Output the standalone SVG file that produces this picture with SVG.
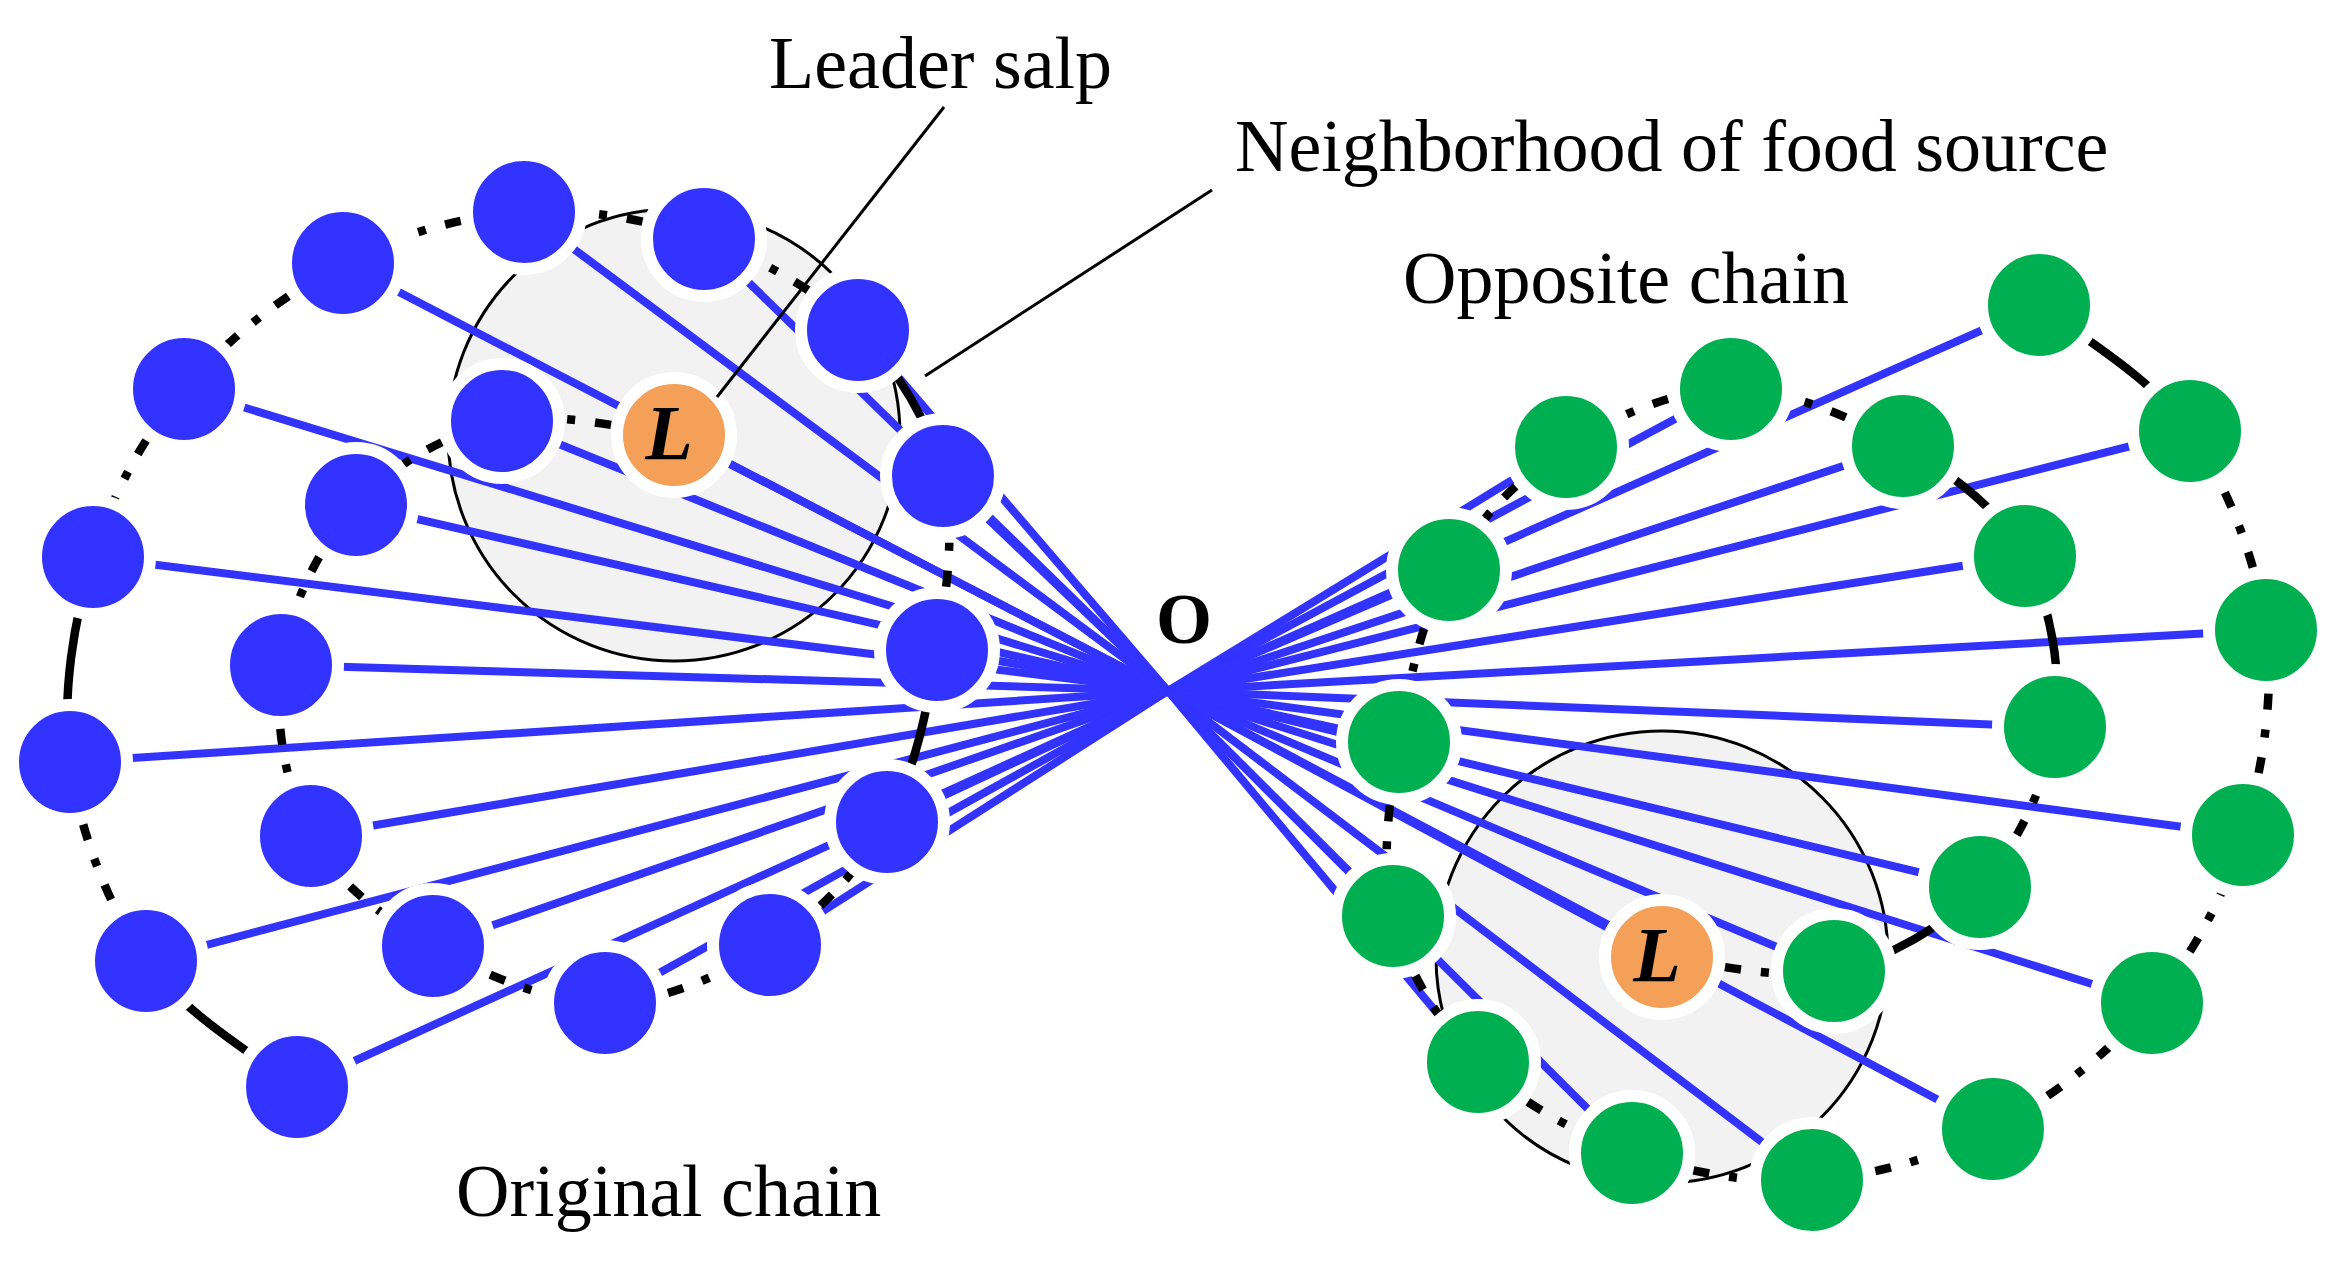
<svg xmlns="http://www.w3.org/2000/svg" width="2339" height="1287" viewBox="0 0 2339 1287">
<style>
.bg{fill:#ffffff}
.hood{fill:#f2f2f2;stroke:#000;stroke-width:3}
.ln{stroke:#3333ff;stroke-width:8;fill:none}
.ch{stroke:#000;stroke-width:8.5;fill:none;stroke-dasharray:16 20 8 20}
.ch.s{stroke-dasharray:none}
.nb{fill:#3333ff;stroke:#fff;stroke-width:12}
.ng{fill:#00b050;stroke:#fff;stroke-width:12}
.nl{fill:#f4a058;stroke:#fff;stroke-width:12}
.co{stroke:#000;stroke-width:3;fill:none}
.lbl{font-family:"Liberation Serif","Times New Roman",serif;font-size:74px;fill:#000}
.lt{font-family:"Liberation Serif","Times New Roman",serif;font-size:78px;font-weight:bold;font-style:italic;text-anchor:middle;fill:#000}
.o{font-family:"Liberation Serif","Times New Roman",serif;font-size:72px;font-weight:bold;fill:#000}
</style>
<rect class="bg" x="0" y="0" width="2339" height="1287"/>
<g id="neighborhoods">
<circle class="hood" cx="674" cy="435" r="226"/>
<circle class="hood" cx="1662" cy="957" r="226"/>
</g>
<g id="connectors">
<g id="rays">
<line class="ln" x1="524" y1="212" x2="1168" y2="691"/>
<line class="ln" x1="343" y1="263" x2="1168" y2="691"/>
<line class="ln" x1="184" y1="389" x2="1168" y2="691"/>
<line class="ln" x1="502" y1="421" x2="1168" y2="691"/>
<line class="ln" x1="356" y1="505" x2="1168" y2="691"/>
<line class="ln" x1="93" y1="557" x2="1168" y2="691"/>
<line class="ln" x1="281" y1="665" x2="1168" y2="691"/>
<line class="ln" x1="70" y1="762" x2="1168" y2="691"/>
<line class="ln" x1="311" y1="836" x2="1168" y2="691"/>
<line class="ln" x1="146" y1="961" x2="1168" y2="691"/>
<line class="ln" x1="433" y1="946" x2="1168" y2="691"/>
<line class="ln" x1="605" y1="1003" x2="1168" y2="691"/>
<line class="ln" x1="297" y1="1087" x2="1168" y2="691"/>
<line class="ln" x1="770" y1="945" x2="1168" y2="691"/>
<line class="ln" x1="887" y1="822" x2="1168" y2="691"/>
<line class="ln" x1="937" y1="650" x2="1168" y2="691"/>
<line class="ln" x1="943" y1="476" x2="1168" y2="691"/>
<line class="ln" x1="858" y1="330" x2="1168" y2="691"/>
<line class="ln" x1="704" y1="239" x2="1168" y2="691"/>
<line class="ln" x1="674" y1="435" x2="1168" y2="691"/>
<line class="ln" x1="1812" y1="1180" x2="1168" y2="691"/>
<line class="ln" x1="1993" y1="1129" x2="1168" y2="691"/>
<line class="ln" x1="2152" y1="1003" x2="1168" y2="691"/>
<line class="ln" x1="1834" y1="971" x2="1168" y2="691"/>
<line class="ln" x1="1980" y1="887" x2="1168" y2="691"/>
<line class="ln" x1="2243" y1="835" x2="1168" y2="691"/>
<line class="ln" x1="2055" y1="727" x2="1168" y2="691"/>
<line class="ln" x1="2266" y1="630" x2="1168" y2="691"/>
<line class="ln" x1="2025" y1="556" x2="1168" y2="691"/>
<line class="ln" x1="2190" y1="431" x2="1168" y2="691"/>
<line class="ln" x1="1903" y1="446" x2="1168" y2="691"/>
<line class="ln" x1="1731" y1="389" x2="1168" y2="691"/>
<line class="ln" x1="2039" y1="305" x2="1168" y2="691"/>
<line class="ln" x1="1566" y1="447" x2="1168" y2="691"/>
<line class="ln" x1="1449" y1="570" x2="1168" y2="691"/>
<line class="ln" x1="1399" y1="742" x2="1168" y2="691"/>
<line class="ln" x1="1393" y1="916" x2="1168" y2="691"/>
<line class="ln" x1="1478" y1="1062" x2="1168" y2="691"/>
<line class="ln" x1="1632" y1="1153" x2="1168" y2="691"/>
<line class="ln" x1="1662" y1="957" x2="1168" y2="691"/>
</g>
<g id="chain-left">
<path class="ch" d="M674,435 C645.3,432.7 555,409.3 502,421"/>
<path class="ch" d="M502,421 C449,432.7 392.8,464.3 356,505"/>
<path class="ch" d="M356,505 C319.2,545.7 288.5,609.8 281,665"/>
<path class="ch" d="M281,665 C273.5,720.2 285.7,789.2 311,836"/>
<path class="ch" d="M311,836 C336.3,882.8 384,918.2 433,946"/>
<path class="ch" d="M433,946 C482,973.8 548.8,1003.2 605,1003"/>
<path class="ch" d="M605,1003 C661.2,1002.8 723,975.2 770,945"/>
<path class="ch" d="M770,945 C817,914.8 859.2,871.2 887,822"/>
<path class="ch s" d="M887,822 C914.8,772.8 927.7,707.7 937,650"/>
<path class="ch" d="M937,650 C946.3,592.3 956.2,529.3 943,476"/>
<path class="ch s" d="M943,476 C929.8,422.7 897.8,369.5 858,330"/>
<path class="ch" d="M858,330 C818.2,290.5 759.7,258.7 704,239"/>
<path class="ch" d="M704,239 C648.3,219.3 584.2,208 524,212"/>
<path class="ch" d="M524,212 C463.8,216 399.7,233.5 343,263"/>
<path class="ch" d="M343,263 C286.3,292.5 225.7,340 184,389"/>
<path class="ch" d="M184,389 C142.3,438 112,494.8 93,557"/>
<path class="ch s" d="M93,557 C74,619.2 61.2,694.7 70,762"/>
<path class="ch" d="M70,762 C78.8,829.3 108.2,906.8 146,961"/>
<path class="ch s" d="M146,961 C183.8,1015.2 271.8,1066 297,1087"/>
</g>
<g id="chain-right">
<path class="ch" d="M1662,957 C1690.7,959.3 1781,982.7 1834,971"/>
<path class="ch s" d="M1834,971 C1887,959.3 1943.2,927.7 1980,887"/>
<path class="ch" d="M1980,887 C2016.8,846.3 2047.5,782.2 2055,727"/>
<path class="ch s" d="M2055,727 C2062.5,671.8 2050.3,602.8 2025,556"/>
<path class="ch s" d="M2025,556 C1999.7,509.2 1952,473.8 1903,446"/>
<path class="ch" d="M1903,446 C1854,418.2 1787.2,388.8 1731,389"/>
<path class="ch" d="M1731,389 C1674.8,389.2 1613,416.8 1566,447"/>
<path class="ch" d="M1566,447 C1519,477.2 1476.8,520.8 1449,570"/>
<path class="ch" d="M1449,570 C1421.2,619.2 1408.3,684.3 1399,742"/>
<path class="ch" d="M1399,742 C1389.7,799.7 1379.8,862.7 1393,916"/>
<path class="ch" d="M1393,916 C1406.2,969.3 1438.2,1022.5 1478,1062"/>
<path class="ch" d="M1478,1062 C1517.8,1101.5 1576.3,1133.3 1632,1153"/>
<path class="ch" d="M1632,1153 C1687.7,1172.7 1751.8,1184 1812,1180"/>
<path class="ch" d="M1812,1180 C1872.2,1176 1936.3,1158.5 1993,1129"/>
<path class="ch" d="M1993,1129 C2049.7,1099.5 2110.3,1052 2152,1003"/>
<path class="ch" d="M2152,1003 C2193.7,954 2224,897.2 2243,835"/>
<path class="ch" d="M2243,835 C2262,772.8 2274.8,697.3 2266,630"/>
<path class="ch" d="M2266,630 C2257.2,562.7 2227.8,485.2 2190,431"/>
<path class="ch s" d="M2190,431 C2152.2,376.8 2064.2,326 2039,305"/>
</g>
</g>
<g id="original-chain">
<g id="b1"><circle class="nb" cx="524" cy="212" r="57"/></g>
<g id="b2"><circle class="nb" cx="343" cy="263" r="57"/></g>
<g id="b3"><circle class="nb" cx="184" cy="389" r="57"/></g>
<g id="b4"><circle class="nb" cx="502" cy="421" r="57"/></g>
<g id="b5"><circle class="nb" cx="356" cy="505" r="57"/></g>
<g id="b6"><circle class="nb" cx="93" cy="557" r="57"/></g>
<g id="b7"><circle class="nb" cx="281" cy="665" r="57"/></g>
<g id="b8"><circle class="nb" cx="70" cy="762" r="57"/></g>
<g id="b9"><circle class="nb" cx="311" cy="836" r="57"/></g>
<g id="b10"><circle class="nb" cx="146" cy="961" r="57"/></g>
<g id="b11"><circle class="nb" cx="433" cy="946" r="57"/></g>
<g id="b12"><circle class="nb" cx="605" cy="1003" r="57"/></g>
<g id="b13"><circle class="nb" cx="297" cy="1087" r="57"/></g>
<g id="b14"><circle class="nb" cx="770" cy="945" r="57"/></g>
<g id="b15"><circle class="nb" cx="887" cy="822" r="57"/></g>
<g id="b16"><circle class="nb" cx="937" cy="650" r="57"/></g>
<g id="b17"><circle class="nb" cx="943" cy="476" r="57"/></g>
<g id="b18"><circle class="nb" cx="858" cy="330" r="57"/></g>
<g id="b19"><circle class="nb" cx="704" cy="239" r="57"/></g>
<g id="leader-left"><circle class="nl" cx="674" cy="435" r="57"/><text class="lt" x="669" y="459">L</text></g>
</g>
<g id="opposite-chain">
<g id="g1"><circle class="ng" cx="1812" cy="1180" r="57"/></g>
<g id="g2"><circle class="ng" cx="1993" cy="1129" r="57"/></g>
<g id="g3"><circle class="ng" cx="2152" cy="1003" r="57"/></g>
<g id="g4"><circle class="ng" cx="1834" cy="971" r="57"/></g>
<g id="g5"><circle class="ng" cx="1980" cy="887" r="57"/></g>
<g id="g6"><circle class="ng" cx="2243" cy="835" r="57"/></g>
<g id="g7"><circle class="ng" cx="2055" cy="727" r="57"/></g>
<g id="g8"><circle class="ng" cx="2266" cy="630" r="57"/></g>
<g id="g9"><circle class="ng" cx="2025" cy="556" r="57"/></g>
<g id="g10"><circle class="ng" cx="2190" cy="431" r="57"/></g>
<g id="g11"><circle class="ng" cx="1903" cy="446" r="57"/></g>
<g id="g12"><circle class="ng" cx="1731" cy="389" r="57"/></g>
<g id="g13"><circle class="ng" cx="2039" cy="305" r="57"/></g>
<g id="g14"><circle class="ng" cx="1566" cy="447" r="57"/></g>
<g id="g15"><circle class="ng" cx="1449" cy="570" r="57"/></g>
<g id="g16"><circle class="ng" cx="1399" cy="742" r="57"/></g>
<g id="g17"><circle class="ng" cx="1393" cy="916" r="57"/></g>
<g id="g18"><circle class="ng" cx="1478" cy="1062" r="57"/></g>
<g id="g19"><circle class="ng" cx="1632" cy="1153" r="57"/></g>
<g id="leader-right"><circle class="nl" cx="1662" cy="957" r="57"/><text class="lt" x="1657" y="981">L</text></g>
</g>
<g id="callouts">
<line class="co" x1="944" y1="107" x2="717" y2="397"/>
<line class="co" x1="1212" y1="190" x2="925" y2="376"/>
</g>
<g id="labels">
<text class="lbl" x="769" y="88">Leader salp</text>
<text class="lbl" x="1235" y="171">Neighborhood of food source</text>
<text class="lbl" x="1403" y="303">Opposite chain</text>
<text class="lbl" x="456" y="1216">Original chain</text>
<text class="o" x="1156" y="643">O</text>
</g>
</svg>
